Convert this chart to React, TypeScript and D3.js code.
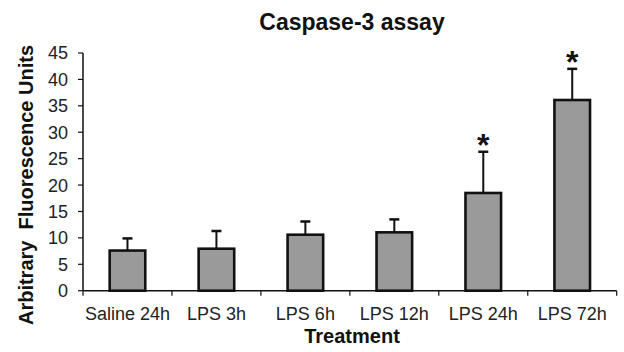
import React, { useEffect, useRef } from 'react'
import * as d3 from 'd3'

const categories = ['Saline 24h', 'LPS 3h', 'LPS 6h', 'LPS 12h', 'LPS 24h', 'LPS 72h']
const means = [7.6, 7.95, 10.6, 11.05, 18.5, 36.1]
const errors = [2.3, 3.35, 2.5, 2.45, 7.8, 5.9]
const significant = [false, false, false, false, true, true]
const yTicks = [0, 5, 10, 15, 20, 25, 30, 35, 40, 45]

const App = () => {
  const ref = useRef<SVGSVGElement>(null)

  useEffect(() => {
    const svg = d3.select(ref.current)
    svg.selectAll('*').remove()

    const x = d3.scaleBand().domain(categories).range([83, 616.7]).paddingInner(0.6).paddingOuter(0.3)
    const y = d3.scaleLinear().domain([0, 45]).range([290.7, 53])
    const font = 'Liberation Sans, Arial, sans-serif'

    // title
    svg.append('text')
      .attr('x', 352).attr('y', 30)
      .attr('text-anchor', 'middle')
      .attr('font-family', font).attr('font-weight', 'bold').attr('font-size', 23)
      .attr('fill', '#111')
      .text('Caspase-3 assay')

    // y axis
    const yAxis = svg.append('g')
    yAxis.append('line')
      .attr('x1', 83).attr('x2', 83).attr('y1', y(45)).attr('y2', y(0))
      .attr('stroke', '#111').attr('stroke-width', 1.5)
    yAxis.selectAll('line.tick').data(yTicks).enter().append('line')
      .attr('class', 'tick')
      .attr('x1', 78).attr('x2', 83)
      .attr('y1', d => y(d)).attr('y2', d => y(d))
      .attr('stroke', '#111').attr('stroke-width', 1.2)
    yAxis.selectAll('text').data(yTicks).enter().append('text')
      .attr('x', 68).attr('y', d => y(d)).attr('dy', '0.36em')
      .attr('text-anchor', 'end')
      .attr('font-family', font).attr('font-size', 18).attr('fill', '#222')
      .text(d => d)

    // x axis
    const bounds = categories.map(c => x(c)! - (x.step() - x.bandwidth()) / 2).concat([616.7])
    const xAxis = svg.append('g')
    xAxis.append('line')
      .attr('x1', 83).attr('x2', 616.7).attr('y1', y(0)).attr('y2', y(0))
      .attr('stroke', '#111').attr('stroke-width', 1.5)
    xAxis.selectAll('line.tick').data(bounds).enter().append('line')
      .attr('class', 'tick')
      .attr('x1', d => d).attr('x2', d => d)
      .attr('y1', y(0)).attr('y2', y(0) + 5)
      .attr('stroke', '#111').attr('stroke-width', 1.2)
    xAxis.selectAll('text').data(categories).enter().append('text')
      .attr('x', d => x(d)! + x.bandwidth() / 2).attr('y', 320)
      .attr('text-anchor', 'middle')
      .attr('font-family', font).attr('font-size', 18).attr('fill', '#222')
      .text(d => d)

    // axis titles
    svg.append('text')
      .attr('x', 352).attr('y', 343)
      .attr('text-anchor', 'middle')
      .attr('font-family', font).attr('font-weight', 'bold').attr('font-size', 20)
      .attr('fill', '#111')
      .text('Treatment')
    svg.append('text')
      .attr('transform', 'translate(33,185) rotate(-90)')
      .attr('text-anchor', 'middle')
      .attr('font-family', font).attr('font-weight', 'bold').attr('font-size', 20)
      .attr('fill', '#111')
      .attr('xml:space', 'preserve')
      .style('white-space', 'pre')
      .text('Arbitrary  Fluorescence Units')

    const data = categories.map((c, i) => ({ c, m: means[i], e: errors[i], s: significant[i] }))
    const cx = (c: string) => x(c)! + x.bandwidth() / 2

    // error bars (upper only)
    const eb = svg.append('g').selectAll('g').data(data).enter().append('g')
    eb.append('line')
      .attr('x1', d => cx(d.c)).attr('x2', d => cx(d.c))
      .attr('y1', d => y(d.m)).attr('y2', d => y(d.m + d.e))
      .attr('stroke', '#111').attr('stroke-width', 2)
    eb.append('line')
      .attr('x1', d => cx(d.c) - 5).attr('x2', d => cx(d.c) + 5)
      .attr('y1', d => y(d.m + d.e)).attr('y2', d => y(d.m + d.e))
      .attr('stroke', '#111').attr('stroke-width', 2.5)

    // bars
    svg.append('g').selectAll('rect').data(data).enter().append('rect')
      .attr('x', d => x(d.c)!).attr('width', x.bandwidth())
      .attr('y', d => y(d.m)).attr('height', d => y(0) - y(d.m))
      .attr('fill', '#999a99').attr('stroke', '#111').attr('stroke-width', 2.6)

    // significance markers
    svg.append('g').selectAll('text').data(data.filter(d => d.s)).enter().append('text')
      .attr('x', d => cx(d.c)).attr('y', d => y(d.m + d.e) + 4)
      .attr('text-anchor', 'middle')
      .attr('font-family', font).attr('font-weight', 'bold').attr('font-size', 32)
      .attr('fill', '#111')
      .text('*')
  }, [])

  return (
    <svg ref={ref} width={624} height={352} style={{ position: 'absolute', left: 0, top: 0, background: '#fff' }} />
  )
}

export default App
